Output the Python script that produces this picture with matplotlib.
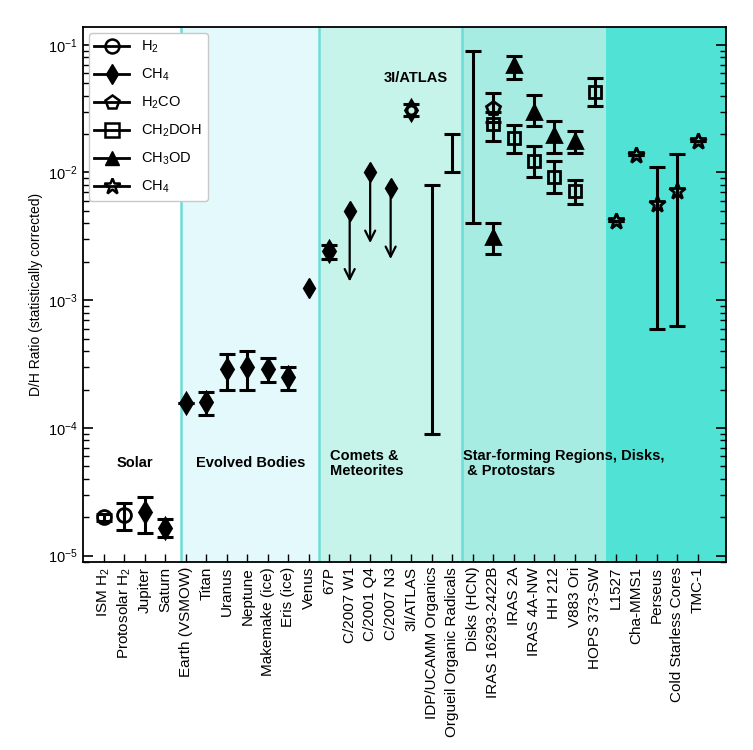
import numpy as np
import matplotlib
matplotlib.use('Agg')
import matplotlib.pyplot as plt
from matplotlib.lines import Line2D

plt.rcParams['font.family'] = ['Liberation Sans', 'DejaVu Sans']
plt.rcParams['mathtext.fontset'] = 'custom'
plt.rcParams['mathtext.rm'] = 'Liberation Sans'
plt.rcParams['mathtext.it'] = 'Liberation Sans:italic'
plt.rcParams['mathtext.bf'] = 'Liberation Sans:bold'

# categories along x
categories = ['ISM H$_2$', 'Protosolar H$_2$', 'Jupiter', 'Saturn', 'Earth (VSMOW)', 'Titan',
              'Uranus', 'Neptune', 'Makemake (ice)', 'Eris (ice)', 'Venus', '67P',
              'C/2007 W1', 'C/2001 Q4', 'C/2007 N3', '3I/ATLAS', 'IDP/UCAMM Organics',
              'Orgueil Organic Radicals', 'Disks (HCN)', 'IRAS 16293-2422B', 'IRAS 2A',
              'IRAS 4A-NW', 'HH 212', 'V883 Ori', 'HOPS 373-SW', 'L1527', 'Cha-MMS1',
              'Perseus', 'Cold Starless Cores', 'TMC-1']

# H2 (open circles): value, lower, upper
h2_names = ['ISM H$_2$', 'Protosolar H$_2$']
h2_val = [2.0e-5, 2.1e-5]
h2_lo = [1.88e-5, 1.6e-5]
h2_hi = [2.12e-5, 2.6e-5]

# CH4 (filled diamonds)
ch4_names = ['Jupiter', 'Saturn', 'Earth (VSMOW)', 'Titan', 'Uranus', 'Neptune',
             'Makemake (ice)', 'Eris (ice)', '67P', '3I/ATLAS']
ch4_val = [2.2e-5, 1.65e-5, 1.56e-4, 1.59e-4, 2.9e-4, 3.0e-4, 2.9e-4, 2.5e-4, 2.41e-3, 3.1e-2]
ch4_lo = [1.5e-5, 1.4e-5, 1.56e-4, 1.26e-4, 2.0e-4, 2.0e-4, 2.3e-4, 2.0e-4, 2.12e-3, 2.75e-2]
ch4_hi = [2.9e-5, 1.93e-5, 1.56e-4, 1.92e-4, 3.8e-4, 4.0e-4, 3.5e-4, 3.0e-4, 2.7e-3, 3.45e-2]

# CH4 without error bars
ch4_single_names = ['Venus']
ch4_single_val = [1.25e-3]

# CH4 upper limits (value, arrow end)
lim_names = ['C/2007 W1', 'C/2001 Q4', 'C/2007 N3']
lim_val = [5.0e-3, 1.0e-2, 7.5e-3]
lim_end = [1.4e-3, 2.8e-3, 2.1e-3]

# ranges without a marker
range_names = ['IDP/UCAMM Organics', 'Orgueil Organic Radicals', 'Disks (HCN)']
range_lo = [9e-5, 1.0e-2, 4.0e-3]
range_hi = [8e-3, 2.0e-2, 9.0e-2]

# H2CO (open pentagon)
h2co_names = ['IRAS 16293-2422B']
h2co_val = [3.2e-2]
h2co_lo = [2.5e-2]
h2co_hi = [4.2e-2]

# CH2DOH (open squares)
ch2doh_names = ['IRAS 16293-2422B', 'IRAS 2A', 'IRAS 4A-NW', 'HH 212', 'V883 Ori', 'HOPS 373-SW']
ch2doh_val = [2.4e-2, 1.87e-2, 1.22e-2, 9.3e-3, 7.2e-3, 4.3e-2]
ch2doh_lo = [1.75e-2, 1.43e-2, 9.3e-3, 6.95e-3, 5.7e-3, 3.3e-2]
ch2doh_hi = [2.95e-2, 2.36e-2, 1.6e-2, 1.22e-2, 8.7e-3, 5.5e-2]

# CH3OD (filled triangles)
ch3od_names = ['IRAS 16293-2422B', 'IRAS 2A', 'IRAS 4A-NW', 'HH 212', 'V883 Ori']
ch3od_val = [3.1e-3, 7.0e-2, 3.0e-2, 1.97e-2, 1.75e-2]
ch3od_lo = [2.3e-3, 5.4e-2, 2.3e-2, 1.41e-2, 1.41e-2]
ch3od_hi = [4.0e-3, 8.2e-2, 4.05e-2, 2.55e-2, 2.1e-2]

# stars (open)
star_names = ['L1527', 'Cha-MMS1', 'Perseus', 'Cold Starless Cores', 'TMC-1']
star_val = [4.2e-3, 1.37e-2, 5.7e-3, 7.2e-3, 1.75e-2]
star_lo = [4.2e-3, 1.37e-2, 6.0e-4, 6.25e-4, 1.75e-2]
star_hi = [4.2e-3, 1.37e-2, 1.11e-2, 1.39e-2, 1.75e-2]

# background regions
region_edges = [(-2, 3.75), (3.75, 10.5), (10.5, 17.5), (17.5, 24.5), (24.5, 31)]
region_colors = ['#ffffff', '#e4f9fb', '#c6f4ea', '#a6ece2', '#50e2d5']


def idx(names):
    return np.array([categories.index(n) for n in names])


fig = plt.figure(figsize=(7.53, 7.5), dpi=100)
ax = fig.add_axes([0.110, 0.2507, 0.854, 0.7133])

for (a, b), c in zip(region_edges, region_colors):
    ax.axvspan(a, b, facecolor=c, edgecolor='none', zorder=0)
for b in [3.75, 10.5, 17.5]:
    ax.axvline(b, color='#6edcd6', lw=1.8, zorder=0.5)

ebkw = dict(fmt='none', ecolor='k', elinewidth=2.2, capsize=6, capthick=2.2, zorder=2)
mkw = dict(color='k', mec='k', ls='none', zorder=3)


def series(names, val, lo, hi, marker, ms, filled):
    x = idx(names)
    val = np.array(val); lo = np.array(lo); hi = np.array(hi)
    ax.errorbar(x, val, yerr=[val - lo, hi - val], **ebkw)
    ax.plot(x, val, marker=marker, ms=ms, mfc='k' if filled else 'none', mew=2, **mkw)


series(ch4_names, ch4_val, ch4_lo, ch4_hi, 'd', 10, True)
series(h2_names, h2_val, h2_lo, h2_hi, 'o', 10, False)
series(h2co_names, h2co_val, h2co_lo, h2co_hi, 'p', 10, False)
series(ch2doh_names, ch2doh_val, ch2doh_lo, ch2doh_hi, 's', 9, False)
series(ch3od_names, ch3od_val, ch3od_lo, ch3od_hi, '^', 10, True)
series(star_names, star_val, star_lo, star_hi, '*', 12, False)

# 3I/ATLAS circle on top of the diamond
ax.plot(idx(['3I/ATLAS']), [3.1e-2], marker='o', ms=6, mfc='#c6f4ea', mew=1.6, **mkw)

ax.plot(idx(ch4_single_names), ch4_single_val, marker='d', ms=10, mfc='k', **mkw)

for x, v, e in zip(idx(lim_names), lim_val, lim_end):
    ax.annotate('', xy=(x, e), xytext=(x, v),
                arrowprops=dict(arrowstyle='->', lw=1.6, color='k', mutation_scale=18,
                                shrinkA=0, shrinkB=0), zorder=2)
ax.plot(idx(lim_names), lim_val, marker='d', ms=10, mfc='k', **mkw)

rx = idx(range_names)
rlo = np.array(range_lo); rhi = np.array(range_hi)
rmid = np.sqrt(rlo * rhi)
ax.errorbar(rx, rmid, yerr=[rmid - rlo, rhi - rmid], **ebkw)

ax.set_yscale('log')
ax.set_ylim(8.93e-6, 0.1377)
ax.set_xlim(-1.03, 30.37)
ax.set_xticks(np.arange(len(categories)))
ax.set_xticklabels(categories, rotation=90, fontsize=11)
ax.tick_params(axis='x', direction='in', length=6, width=1, top=False)
ax.tick_params(axis='y', which='both', direction='in', right=True, labelsize=10.5)
ax.tick_params(axis='y', which='major', length=7, width=1.2)
ax.tick_params(axis='y', which='minor', length=4, width=1)
for s in ax.spines.values():
    s.set_linewidth(1.3)
ax.set_ylabel('D/H Ratio (statistically corrected)', fontsize=10)

ax.text(1.5, 5.3e-5, 'Solar', ha='center', va='center', fontsize=10.5, fontweight='bold')
ax.text(7.15, 5.3e-5, 'Evolved Bodies', ha='center', va='center', fontsize=10.5, fontweight='bold')
ax.text(11.05, 5.3e-5, 'Comets &\nMeteorites', ha='left', va='center', fontsize=10.5,
        fontweight='bold', linespacing=1.1)
ax.text(17.55, 5.3e-5, 'Star-forming Regions, Disks,\n & Protostars', ha='left', va='center',
        fontsize=10.5, fontweight='bold', linespacing=1.1)
ax.text(15.25, 5.5e-2, '3I/ATLAS', ha='center', va='center', fontsize=10.5, fontweight='bold')

handles = [
    Line2D([], [], color='k', lw=2, marker='o', ms=10, mfc='none', mew=1.8),
    Line2D([], [], color='k', lw=2, marker='d', ms=10, mfc='k'),
    Line2D([], [], color='k', lw=2, marker='p', ms=10, mfc='none', mew=1.8),
    Line2D([], [], color='k', lw=2, marker='s', ms=10, mfc='none', mew=1.8),
    Line2D([], [], color='k', lw=2, marker='^', ms=10, mfc='k'),
    Line2D([], [], color='k', lw=2, marker='*', ms=12, mfc='none', mew=1.8),
]
labels = ['H$_2$', 'CH$_4$', 'H$_2$CO', 'CH$_2$DOH', 'CH$_3$OD', 'CH$_4$']
leg = ax.legend(handles, labels, loc='upper left', fontsize=10.5, handlelength=2.4,
                labelspacing=0.8, borderaxespad=0.4, framealpha=1, edgecolor='#c8c8c8')
leg.set_zorder(5)

fig.savefig('out.png', dpi=100)
